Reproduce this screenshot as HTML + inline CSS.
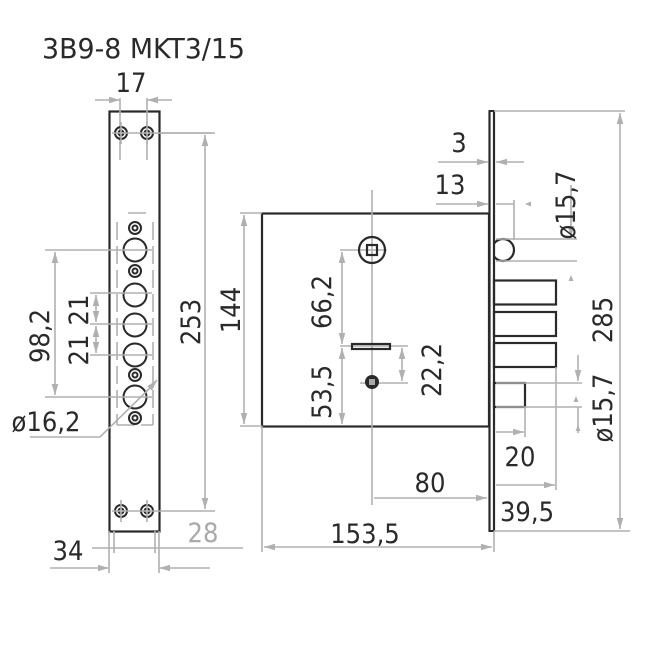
<!DOCTYPE html>
<html><head><style>
html,body{margin:0;padding:0;background:#fff;}
svg{display:block;}
text{font-family:"DejaVu Sans Condensed","Liberation Sans Narrow","Liberation Sans",sans-serif;font-size:27px;fill:#2a2a2a;text-anchor:middle;}
.d{stroke:#b0b0b0;stroke-width:1.6;fill:none;}
.k{stroke:#2a2a2a;stroke-width:2.2;fill:none;}
.a{fill:#b0b0b0;}
</style></head><body>
<svg width="650" height="650" viewBox="0 0 650 650" xmlns="http://www.w3.org/2000/svg">
<defs>
<marker id="ar" viewBox="0 0 10 10" refX="10" refY="5" markerWidth="7" markerHeight="7" orient="auto-start-reverse"><path d="M0,2 L10,5 L0,8 z" fill="#b0b0b0"/></marker>
</defs>
<text x="42" y="58" style="font-size:28px;text-anchor:start" textLength="203" lengthAdjust="spacingAndGlyphs">3B9-8 MKT3/15</text>

<rect x="109.5" y="111.5" width="50" height="420" class="k"/>
<text x="131" y="92">17</text>
<line x1="120" y1="98" x2="120" y2="160" class="d"/>
<line x1="147" y1="98" x2="147" y2="160" class="d"/>
<line x1="95" y1="100" x2="120" y2="100" class="d" marker-end="url(#ar)"/>
<line x1="172" y1="100" x2="147" y2="100" class="d" marker-end="url(#ar)"/>
<g stroke="#2a2a2a" stroke-width="2" fill="none">
<circle cx="121" cy="133" r="6"/><circle cx="147" cy="133" r="6"/>
<circle cx="121" cy="511" r="6"/><circle cx="147" cy="511" r="6"/>
<circle cx="121" cy="133" r="2.5"/><circle cx="147" cy="133" r="2.5"/>
<circle cx="121" cy="511" r="2.5"/><circle cx="147" cy="511" r="2.5"/>
</g>
<g class="d">
<line x1="121" y1="122" x2="121" y2="144"/><line x1="147" y1="122" x2="147" y2="144"/>
<line x1="112" y1="133" x2="215" y2="133"/>
<line x1="121" y1="500" x2="121" y2="522"/><line x1="147" y1="500" x2="147" y2="522"/>
<line x1="112" y1="511" x2="215" y2="511"/>
</g>
<g class="d" stroke-dasharray="18,6">
<line x1="117" y1="222" x2="117" y2="425"/>
<line x1="153" y1="222" x2="153" y2="425"/>
<line x1="128" y1="213" x2="150" y2="213"/>
<line x1="117" y1="425" x2="153" y2="425"/>
</g>
<g stroke="#2a2a2a" stroke-width="2" fill="none">
<circle cx="135" cy="228" r="6"/><circle cx="135" cy="228" r="2.5"/>
<circle cx="135" cy="250" r="11.5"/>
<circle cx="135" cy="271" r="6"/><circle cx="135" cy="271" r="2.5"/>
<circle cx="135" cy="295" r="11.5"/>
<circle cx="135" cy="325" r="11.5"/>
<circle cx="135" cy="355" r="11.5"/>
<circle cx="135" cy="375" r="6"/><circle cx="135" cy="375" r="2.5"/>
<circle cx="135" cy="397" r="11.5"/>
<circle cx="135" cy="418" r="6"/><circle cx="135" cy="418" r="2.5"/>
</g>
<g class="d">
<line x1="45" y1="250" x2="152" y2="250"/>
<line x1="45" y1="397" x2="152" y2="397"/>
<line x1="55" y1="252" x2="55" y2="395" marker-start="url(#ar)" marker-end="url(#ar)"/>
<line x1="90" y1="293" x2="152" y2="293"/>
<line x1="90" y1="324" x2="152" y2="324"/>
<line x1="90" y1="355" x2="152" y2="355"/>
<line x1="96" y1="295" x2="96" y2="322" marker-start="url(#ar)" marker-end="url(#ar)"/>
<line x1="96" y1="326" x2="96" y2="353" marker-start="url(#ar)" marker-end="url(#ar)"/>
<polyline points="30,437 100,437 150,388"/>
<line x1="150" y1="388" x2="157" y2="380" marker-end="url(#ar)"/>
</g>
<text transform="translate(49,336) rotate(-90)">98,2</text>
<text transform="translate(88,310) rotate(-90)">21</text>
<text transform="translate(88,350) rotate(-90)">21</text>
<text x="46" y="431">ø16,2</text>
<g class="d">
<line x1="160" y1="133" x2="212" y2="133"/>
<line x1="205" y1="135" x2="205" y2="509" marker-start="url(#ar)" marker-end="url(#ar)"/>
</g>
<text transform="translate(200,322) rotate(-90)">253</text>
<g class="d">
<line x1="109" y1="531" x2="109" y2="573"/>
<line x1="159" y1="531" x2="159" y2="573"/>
<line x1="114" y1="531" x2="114" y2="553"/>
<line x1="155" y1="531" x2="155" y2="553"/>
<line x1="92" y1="548" x2="243" y2="548"/>
<line x1="50" y1="568" x2="109" y2="568" marker-end="url(#ar)"/>
<line x1="210" y1="568" x2="159" y2="568" marker-end="url(#ar)"/>
</g>
<text x="68" y="560">34</text>
<text x="203" y="542" style="fill:#aaaaaa">28</text>

<rect x="262" y="213.5" width="227" height="213" class="k"/>
<circle cx="503" cy="250" r="11" class="k"/>
<rect x="489" y="111" width="5" height="420" fill="#fff"/>
<line x1="489.5" y1="111" x2="489.5" y2="531" stroke="#2a2a2a" stroke-width="2.2"/>
<line x1="494" y1="111" x2="494" y2="531" stroke="#2a2a2a" stroke-width="2.2"/>
<line x1="488.5" y1="111" x2="495" y2="111" stroke="#2a2a2a" stroke-width="2"/>
<line x1="488.5" y1="531" x2="495" y2="531" stroke="#2a2a2a" stroke-width="2"/>
<g class="k">
<rect x="494" y="280.5" width="62" height="24"/>
<rect x="494" y="312" width="62" height="24"/>
<rect x="494" y="343" width="62" height="24"/>
<rect x="494" y="383" width="31" height="24"/>
</g>
<g class="d">
<line x1="372" y1="190" x2="372" y2="505"/>
<line x1="340" y1="250" x2="387" y2="250"/>
<line x1="340" y1="346" x2="408" y2="346"/>
<line x1="360" y1="383" x2="408" y2="383"/>
</g>
<circle cx="372" cy="250" r="13" class="k" stroke-width="2"/>
<rect x="367" y="245" width="10" height="10" class="k" stroke-width="1.8"/>
<rect x="352" y="344" width="38" height="5" class="k" stroke-width="1.8"/>
<circle cx="372" cy="382" r="7" fill="#2a2a2a"/>
<rect x="369" y="379" width="6" height="6" fill="#fff" opacity="0.6"/>
<g class="d">
<line x1="240" y1="213" x2="262" y2="213"/>
<line x1="240" y1="426" x2="262" y2="426"/>
<line x1="244" y1="215" x2="244" y2="424" marker-start="url(#ar)" marker-end="url(#ar)"/>
<line x1="342" y1="252" x2="342" y2="344" marker-start="url(#ar)" marker-end="url(#ar)"/>
<line x1="342" y1="348" x2="342" y2="424" marker-start="url(#ar)" marker-end="url(#ar)"/>
<line x1="402" y1="348" x2="402" y2="381" marker-start="url(#ar)" marker-end="url(#ar)"/>
</g>
<text transform="translate(240,310) rotate(-90)">144</text>
<text transform="translate(331,302) rotate(-90)">66,2</text>
<text transform="translate(331,392) rotate(-90)">53,5</text>
<text transform="translate(441,370) rotate(-90)">22,2</text>
<g class="d">
<line x1="262" y1="426" x2="262" y2="552"/>
<line x1="494" y1="531" x2="494" y2="552"/>
<line x1="264" y1="547" x2="492" y2="547" marker-start="url(#ar)" marker-end="url(#ar)"/>
<line x1="374" y1="498" x2="487" y2="498" marker-end="url(#ar)"/>
<line x1="496" y1="485" x2="555" y2="485" marker-end="url(#ar)"/>
<line x1="556" y1="367" x2="556" y2="490"/>
<line x1="525" y1="407" x2="525" y2="437"/>
<line x1="496" y1="432" x2="524" y2="432" marker-end="url(#ar)"/>
<line x1="494" y1="531" x2="630" y2="531"/>
</g>
<text x="430" y="492">80</text>
<text x="365" y="543">153,5</text>
<text x="520" y="466">20</text>
<text x="527" y="521">39,5</text>
<g class="d">
<line x1="494" y1="111" x2="625" y2="111"/>
<line x1="620" y1="113" x2="620" y2="529" marker-start="url(#ar)" marker-end="url(#ar)"/>
<line x1="438" y1="162" x2="488" y2="162" marker-end="url(#ar)"/>
<line x1="524" y1="162" x2="496" y2="162" marker-end="url(#ar)"/>
<line x1="436" y1="204" x2="488" y2="204" marker-end="url(#ar)"/>
<line x1="496" y1="204" x2="514" y2="204"/>
<line x1="514" y1="200" x2="514" y2="240"/>
<line x1="496" y1="239" x2="577" y2="239"/>
<line x1="496" y1="261" x2="577" y2="261"/>
<line x1="571" y1="185" x2="571" y2="237" marker-end="url(#ar)"/>
<line x1="496" y1="383" x2="582" y2="383"/>
<line x1="496" y1="407" x2="582" y2="407"/>
<line x1="578" y1="355" x2="578" y2="381" marker-end="url(#ar)"/>
<line x1="578" y1="407" x2="578" y2="433"/>
</g>
<path d="M525,204 l6,-2.5 v5z M571,275 l-2.5,6 h5z M576,396 l-2.5,6 h5z M578,425 l-2.5,6 h5z" class="a"/>
<text x="459" y="152">3</text>
<text x="450" y="194">13</text>
<text transform="translate(575,205) rotate(-90)">ø15,7</text>
<text transform="translate(612,320) rotate(-90)">285</text>
<text transform="translate(612,408) rotate(-90)">ø15,7</text>
</svg>
</body></html>
